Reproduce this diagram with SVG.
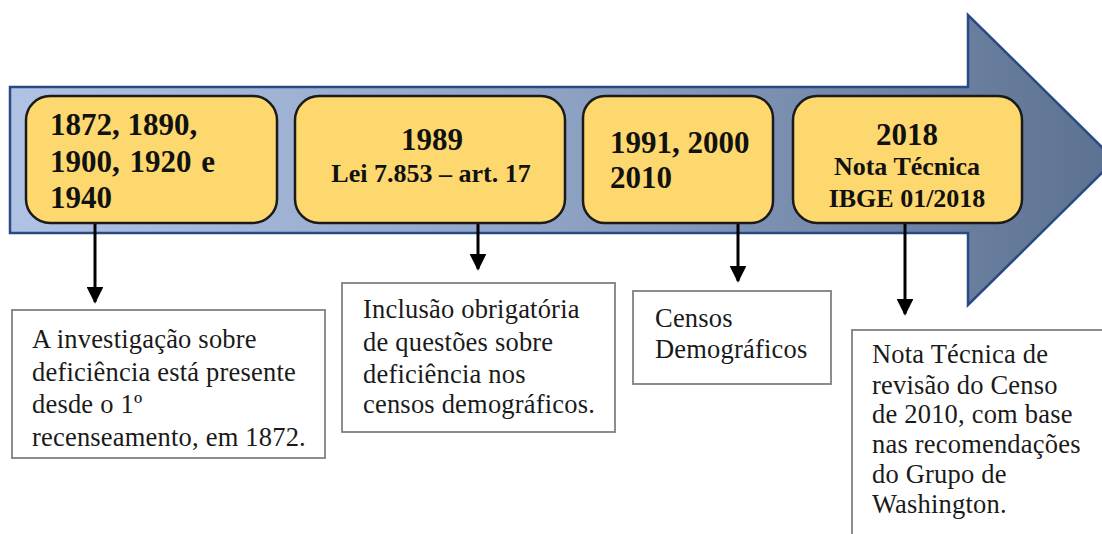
<svg xmlns="http://www.w3.org/2000/svg" width="1102" height="534" viewBox="0 0 1102 534">
<style>
.yb{fill:#fdd86f;stroke:#1a1a1a;stroke-width:2.5}
.wb{fill:#ffffff;stroke:#808080;stroke-width:1.8}
.bt{font-family:'Liberation Serif','Times New Roman',serif;font-weight:bold;fill:#111}
.rt{font-family:'Liberation Serif','Times New Roman',serif;font-size:26.5px;letter-spacing:0.2px;fill:#1a1a1a}
.cn{stroke:#000;stroke-width:3;fill:none}
</style>
<defs>
<linearGradient id="g" x1="10" y1="0" x2="1110" y2="0" gradientUnits="userSpaceOnUse">
<stop offset="0" stop-color="#b0c3e5"/>
<stop offset="0.5" stop-color="#8ea2c4"/>
<stop offset="1" stop-color="#5d7191"/>
</linearGradient>
<marker id="ah" viewBox="0 0 10 10" refX="9" refY="5" markerWidth="5.6" markerHeight="5.6" markerUnits="strokeWidth" orient="auto">
<path d="M0,0 L10,5 L0,10 z" fill="#000"/>
</marker>
</defs>
<g id="timeline-arrow">
<polygon points="10,87 968,87 968,15 1115,160 968,305 968,233 10,233" fill="url(#g)" stroke="#2a4a85" stroke-width="2.5"/>
</g>
<g id="connectors">
<line class="cn" x1="95" y1="223" x2="95" y2="302" marker-end="url(#ah)"/>
<line class="cn" x1="478" y1="223" x2="478" y2="269" marker-end="url(#ah)"/>
<line class="cn" x1="738" y1="223" x2="738" y2="281" marker-end="url(#ah)"/>
<line class="cn" x1="905" y1="223" x2="905" y2="314" marker-end="url(#ah)"/>
</g>
<g id="node-1872">
<rect class="yb" x="26" y="96" width="251" height="127" rx="24"/>
<text class="bt" font-size="31" x="50" y="135">1872, 1890,</text>
<text class="bt" font-size="31" x="50" y="172" word-spacing="2">1900, 1920 e</text>
<text class="bt" font-size="31" x="50" y="208">1940</text>
</g>
<g id="node-1989">
<rect class="yb" x="295" y="96" width="270" height="127" rx="24"/>
<text class="bt" font-size="31" x="432" y="150" text-anchor="middle">1989</text>
<text class="bt" font-size="26" x="431" y="182" text-anchor="middle">Lei 7.853 – art. 17</text>
</g>
<g id="node-1991">
<rect class="yb" x="583" y="96" width="190" height="127" rx="22"/>
<text class="bt" font-size="31" x="610" y="153">1991, 2000</text>
<text class="bt" font-size="31" x="610" y="188">2010</text>
</g>
<g id="node-2018">
<rect class="yb" x="793" y="96" width="229" height="127" rx="24"/>
<text class="bt" font-size="31" x="907" y="145" text-anchor="middle">2018</text>
<text class="bt" font-size="26" x="907" y="175" text-anchor="middle">Nota Técnica</text>
<text class="bt" font-size="26" x="907" y="207" text-anchor="middle">IBGE 01/2018</text>
</g>
<g id="desc-1872">
<rect class="wb" x="12" y="310" width="313" height="148"/>
<text class="rt" x="32" y="348">A investigação sobre</text>
<text class="rt" x="32" y="381">deficiência está presente</text>
<text class="rt" x="32" y="413">desde o 1º</text>
<text class="rt" x="32" y="446">recenseamento, em 1872.</text>
</g>
<g id="desc-1989">
<rect class="wb" x="342" y="283" width="273" height="149"/>
<text class="rt" x="363" y="318">Inclusão obrigatória</text>
<text class="rt" x="363" y="351">de questões sobre</text>
<text class="rt" x="363" y="383">deficiência nos</text>
<text class="rt" x="363" y="413">censos demográficos.</text>
</g>
<g id="desc-1991">
<rect class="wb" x="633" y="291" width="198" height="93"/>
<text class="rt" x="655" y="327">Censos</text>
<text class="rt" x="655" y="358">Demográficos</text>
</g>
<g id="desc-2018">
<rect class="wb" x="852" y="330" width="260" height="215"/>
<text class="rt" x="872" y="363">Nota Técnica de</text>
<text class="rt" x="872" y="394">revisão do Censo</text>
<text class="rt" x="872" y="423">de 2010, com base</text>
<text class="rt" x="872" y="453">nas recomendações</text>
<text class="rt" x="872" y="483">do Grupo de</text>
<text class="rt" x="872" y="513">Washington.</text>
</g>
</svg>
